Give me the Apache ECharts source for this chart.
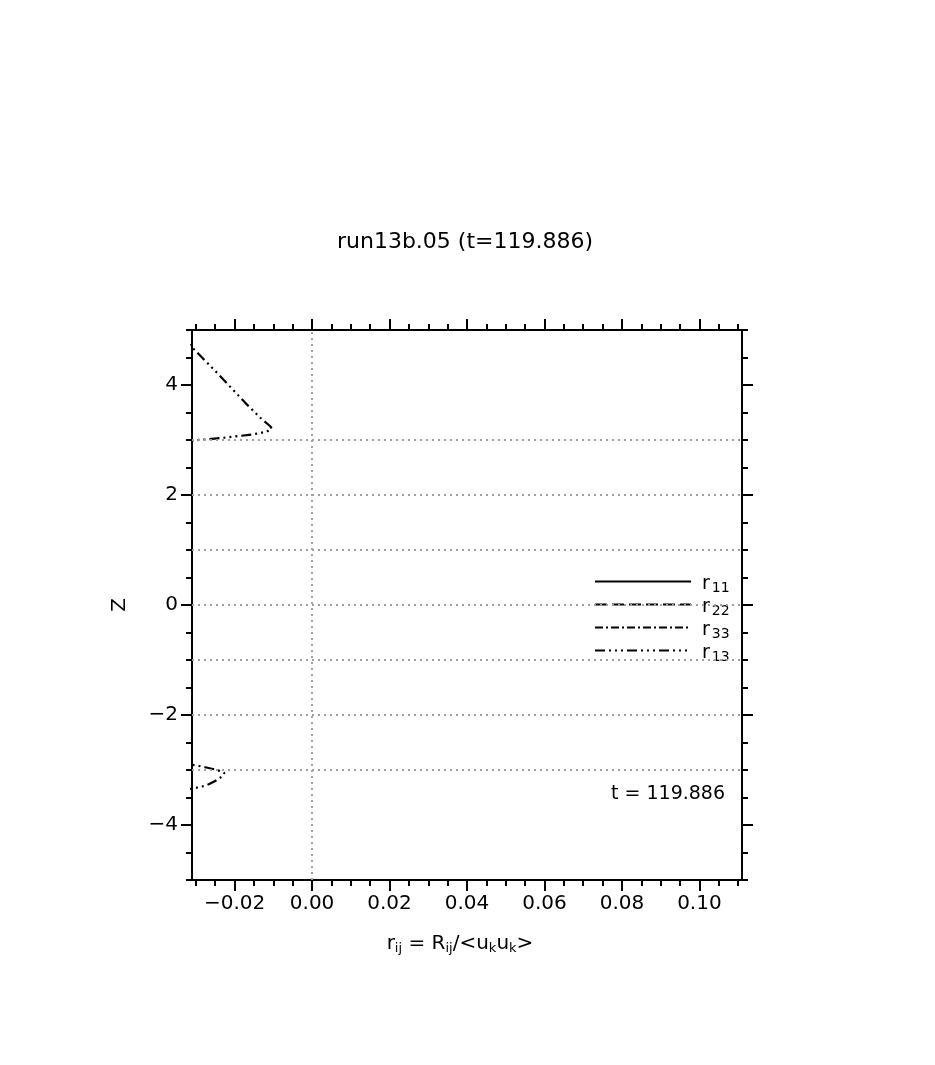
<!DOCTYPE html>
<html><head><meta charset="utf-8">
<script src="https://cdn.jsdelivr.net/npm/echarts@6/dist/echarts.min.js"></script>
<style>html,body{margin:0;padding:0;background:#fff}#c{width:935px;height:1065px}</style>
</head><body><div id="c"></div>
<script>
// ---- data ----
const titleText = 'run13b.05 (t=119.886)';
const timeText = 't = 119.886';
const seriesNames = ['r11', 'r22', 'r33', 'r13'];
const seriesSubs = ['11', '22', '33', '13'];
const r11Data = [];
const r22Data = [];
const r33Data = [];
const r13Upper = [[-0.0354, 5.0], [-0.0309, 4.68], [-0.0241, 4.19], [-0.0173, 3.68], [-0.0130, 3.38],
  [-0.0108, 3.25], [-0.0104, 3.21], [-0.0117, 3.15], [-0.0155, 3.10], [-0.0216, 3.05],
  [-0.0276, 3.01], [-0.0309, 2.99], [-0.0450, 2.93]];
const r13Lower = [[-0.0360, -2.88], [-0.0303, -2.91], [-0.0276, -2.95], [-0.0250, -2.99], [-0.0233, -3.03],
  [-0.0226, -3.06], [-0.0237, -3.14], [-0.0250, -3.20], [-0.0267, -3.26], [-0.0284, -3.30],
  [-0.0310, -3.34], [-0.0400, -3.37]];
const xMajorTicks = [-0.02, 0, 0.02, 0.04, 0.06, 0.08, 0.10];
const xMinorTicks = [-0.03, -0.025, -0.02, -0.015, -0.01, -0.005, 0, 0.005, 0.01, 0.015, 0.02, 0.025, 0.03,
  0.035, 0.04, 0.045, 0.05, 0.055, 0.06, 0.065, 0.07, 0.075, 0.08, 0.085, 0.09, 0.095, 0.1, 0.105, 0.11];
const yMajorTicks = [-4, -2, 0, 2, 4];
const yMinorTicks = [-5, -4.5, -4, -3.5, -3, -2.5, -2, -1.5, -1, -0.5, 0, 0.5, 1, 1.5, 2, 2.5, 3, 3.5, 4, 4.5, 5];
const refLinesZ = [-3, -2, -1, 0, 1, 2, 3];
const refLinesX = [0];
const xRange = [-0.031, 0.111];
const yRange = [-5, 5];

// ---- chart ----
const FONT = 'DejaVu Sans';
const minus = s => s.replace('-', '\u2212');
function xAx(pos, ticks, len, labels) {
  return {
    type: 'value', position: pos, min: xRange[0], max: xRange[1],
    axisLine: { show: true, onZero: false, lineStyle: { color: '#000', width: 2 } },
    axisTick: { show: true, inside: false, length: len, customValues: ticks, lineStyle: { color: '#000', width: 2 } },
    axisLabel: labels ? { show: true, customValues: ticks, margin: 14, color: '#000', fontSize: 20, fontFamily: FONT,
      formatter: v => minus(Number(v).toFixed(2)) } : { show: false },
    splitLine: { show: false }
  };
}
function yAx(pos, ticks, len, labels) {
  return {
    type: 'value', position: pos, min: yRange[0], max: yRange[1],
    axisLine: { show: true, onZero: false, lineStyle: { color: '#000', width: 2 } },
    axisTick: { show: true, inside: false, length: len, customValues: ticks, lineStyle: { color: '#000', width: 2 } },
    axisLabel: labels ? { show: true, customValues: ticks, margin: 14, color: '#000', fontSize: 20, fontFamily: FONT,
      formatter: v => minus(String(v)) } : { show: false },
    splitLine: { show: false }
  };
}
const xAxes = [xAx('bottom', xMajorTicks, 11, true), xAx('bottom', xMinorTicks, 6, false),
  xAx('top', xMajorTicks, 11, false), xAx('top', xMinorTicks, 6, false)];
xAxes[0].name = '{n|r}{s|ij}{n| = R}{s|ij}{n|/<u}{s|k}{n|u}{s|k}{n|>}';
xAxes[0].nameLocation = 'middle';
xAxes[0].nameGap = 52;
xAxes[0].nameTextStyle = { color: '#000', fontFamily: FONT, padding: [0, 14, 0, 0],
  rich: { n: { fontSize: 20, fontFamily: FONT, color: '#000' },
          s: { fontSize: 13, fontFamily: FONT, color: '#000', padding: [10, 0, 0, 0] } } };
const yAxes = [yAx('left', yMajorTicks, 11, true), yAx('left', yMinorTicks, 6, false),
  yAx('right', yMajorTicks, 11, false), yAx('right', yMinorTicks, 6, false)];
yAxes[0].name = 'Z';
yAxes[0].nameLocation = 'middle';
yAxes[0].nameGap = 62;
yAxes[0].nameTextStyle = { color: '#000', fontSize: 20, fontFamily: FONT };

const dashes = ['solid', [12, 5], [8, 3, 2, 3], [10, 4, 2, 4, 2, 4, 2, 4]];
const dataSets = [r11Data, r22Data, r33Data];
const series = [];
seriesNames.slice(0, 3).forEach((n, i) => series.push({
  name: n, type: 'line', data: dataSets[i], symbol: 'none', showSymbol: false,
  lineStyle: { color: '#000', width: 2, type: dashes[i] }, itemStyle: { color: '#000' }
}));
[r13Upper, r13Lower].forEach((d, k) => series.push({
  name: 'r13', type: 'line', data: d, symbol: 'none', showSymbol: false, clip: true,
  lineStyle: { color: '#000', width: 2.2, type: dashes[3] }, itemStyle: { color: '#000' }, z: 3,
  markLine: k === 0 ? {
    silent: true, symbol: 'none', animation: false, label: { show: false },
    lineStyle: { color: '#a0a0a0', width: 2, type: [2, 4] },
    data: refLinesZ.map(v => ({ yAxis: v })).concat(refLinesX.map(v => ({ xAxis: v })))
  } : undefined
}));

const chart = echarts.init(document.getElementById('c'), null, { renderer: 'canvas' });
chart.setOption({
  animation: false,
  backgroundColor: '#fff',
  title: [
    { text: titleText, left: 460, top: 226, textAlign: 'center',
      textStyle: { fontSize: 22, fontWeight: 'normal', color: '#000', fontFamily: FONT } },
    { text: timeText, left: 606, top: 780,
      textStyle: { fontSize: 19, fontWeight: 'normal', color: '#000', fontFamily: FONT } }
  ],
  grid: { left: 192, top: 330, right: 193, bottom: 185, containLabel: false },
  xAxis: xAxes,
  yAxis: yAxes,
  legend: {
    data: seriesNames, orient: 'vertical', left: 589, top: 570,
    itemWidth: 96, itemHeight: 14, itemGap: 3,
    itemStyle: { opacity: 0, color: 'transparent', borderWidth: 0 },
    lineStyle: { width: 2, color: '#000' },
    formatter: name => '{a|r}{b|' + seriesSubs[seriesNames.indexOf(name)] + '}',
    textStyle: { color: '#000', fontFamily: FONT,
      rich: { a: { fontSize: 19, fontFamily: FONT, color: '#000', padding: [6, 0, 0, 6] },
              b: { fontSize: 14, fontFamily: FONT, color: '#000', padding: [13, 0, 0, 2] } } },
    selectedMode: false
  },
  series: series
});
</script></body></html>
